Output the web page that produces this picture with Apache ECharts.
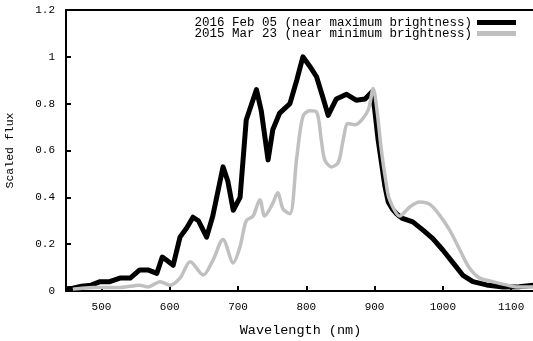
<!DOCTYPE html>
<html>
<head>
<meta charset="utf-8">
<script src="https://cdn.jsdelivr.net/npm/echarts@6/dist/echarts.min.js"></script>
<style>
  html, body { margin: 0; padding: 0; background: #fff; }
  #chart { width: 533px; height: 341px; }
</style>
</head>
<body>
<div id="chart"></div>
<script>
// wavelength (nm) / scaled flux
const maxWave = [448, 458, 471, 485, 498, 512, 527, 542, 556, 568, 581, 589, 596, 605, 615, 625, 634, 642, 654, 663, 678, 685, 693, 703, 712, 720, 727, 734, 744, 751, 761, 776, 786, 795, 805, 815, 825, 832, 844, 859, 873, 886, 896, 900, 905, 910, 915, 920, 926, 932, 941, 956, 971, 985, 1000, 1015, 1029, 1044, 1064, 1088, 1112, 1135];
const maxFlux = [0.01, 0.012, 0.02, 0.025, 0.04, 0.04, 0.055, 0.055, 0.09, 0.09, 0.075, 0.145, 0.13, 0.11, 0.23, 0.27, 0.315, 0.3, 0.23, 0.32, 0.53, 0.47, 0.345, 0.40, 0.73, 0.80, 0.86, 0.77, 0.56, 0.69, 0.76, 0.80, 0.90, 1.0, 0.96, 0.915, 0.82, 0.75, 0.82, 0.84, 0.815, 0.82, 0.85, 0.78, 0.65, 0.55, 0.45, 0.38, 0.35, 0.33, 0.31, 0.295, 0.26, 0.225, 0.175, 0.12, 0.068, 0.04, 0.026, 0.017, 0.018, 0.025];

const minWave = [458, 488, 527, 556, 568, 586, 600, 615, 630, 649, 663, 678, 693, 703, 712, 722, 732, 739, 751, 758, 766, 776, 786, 795, 805, 815, 822, 827, 837, 847, 854, 861, 871, 881, 891, 898, 904, 910, 917, 922, 937, 952, 966, 981, 995, 1010, 1025, 1039, 1054, 1073, 1093, 1108, 1135];
const minFlux = [0.008, 0.015, 0.015, 0.025, 0.017, 0.04, 0.025, 0.055, 0.125, 0.068, 0.13, 0.22, 0.12, 0.19, 0.30, 0.32, 0.39, 0.32, 0.375, 0.42, 0.35, 0.33, 0.57, 0.745, 0.77, 0.765, 0.645, 0.56, 0.53, 0.55, 0.645, 0.715, 0.71, 0.73, 0.775, 0.865, 0.76, 0.60, 0.46, 0.39, 0.32, 0.36, 0.38, 0.37, 0.325, 0.26, 0.175, 0.098, 0.055, 0.04, 0.026, 0.017, 0.017];

const xTicks = [500, 600, 700, 800, 900, 1000, 1100];
const seriesNames = ['2016 Feb 05 (near maximum brightness)', '2015 Mar 23 (near minimum brightness)'];

const mono = 'Liberation Mono';
const chart = echarts.init(document.getElementById('chart'), null, { renderer: 'canvas' });

chart.setOption({
  animation: false,
  backgroundColor: '#fff',
  grid: { left: 66, top: 10, width: 469, bottom: 50, outerBoundsMode: 'none', containLabel: false },
  legend: {
    orient: 'vertical', right: 12, top: 11, align: 'right',
    itemWidth: 39, itemHeight: 5, itemGap: -2, icon: 'rect',
    textStyle: { fontFamily: mono, fontSize: 12.5, color: '#000', lineHeight: 12 },
    data: seriesNames
  },
  xAxis: [{
    type: 'value', min: 448, max: 1135,
    name: 'Wavelength (nm)', nameLocation: 'middle', nameGap: 32,
    nameTextStyle: { fontFamily: mono, fontSize: 13.5, color: '#000' },
    axisLine: { lineStyle: { color: '#000', width: 2 } },
    axisTick: { inside: true, length: 5, customValues: xTicks, lineStyle: { color: '#000', width: 2 } },
    axisLabel: { customValues: xTicks, formatter: v => String(v), fontFamily: mono, fontSize: 11, color: '#000', margin: 11 },
    splitLine: { show: false }
  }, {
    type: 'value', min: 448, max: 1135, position: 'top',
    axisLine: { show: true, onZero: false, lineStyle: { color: '#000', width: 2 } },
    axisTick: { show: false }, axisLabel: { show: false }, splitLine: { show: false }
  }],
  yAxis: {
    type: 'value', min: 0, max: 1.2, interval: 0.2,
    name: 'Scaled flux', nameLocation: 'middle', nameGap: 50,
    nameTextStyle: { fontFamily: mono, fontSize: 11.5, color: '#000' },
    axisLine: { lineStyle: { color: '#000', width: 2 } },
    axisTick: { inside: true, length: 5, lineStyle: { color: '#000', width: 2 } },
    axisLabel: { fontFamily: mono, fontSize: 11, color: '#000', margin: 11 },
    splitLine: { show: false }
  },
  series: [
    {
      name: seriesNames[0], type: 'line', showSymbol: false, z: 2,
      data: maxWave.map((w, i) => [w, maxFlux[i]]),
      itemStyle: { color: '#000' },
      lineStyle: { color: '#000', width: 5, join: 'round' }
    },
    {
      name: seriesNames[1], type: 'line', showSymbol: false, smooth: 0.3, z: 3,
      data: minWave.map((w, i) => [w, minFlux[i]]),
      itemStyle: { color: '#c0c0c0' },
      lineStyle: { color: '#c0c0c0', width: 3.5, join: 'round' }
    }
  ]
});
</script>
</body>
</html>
